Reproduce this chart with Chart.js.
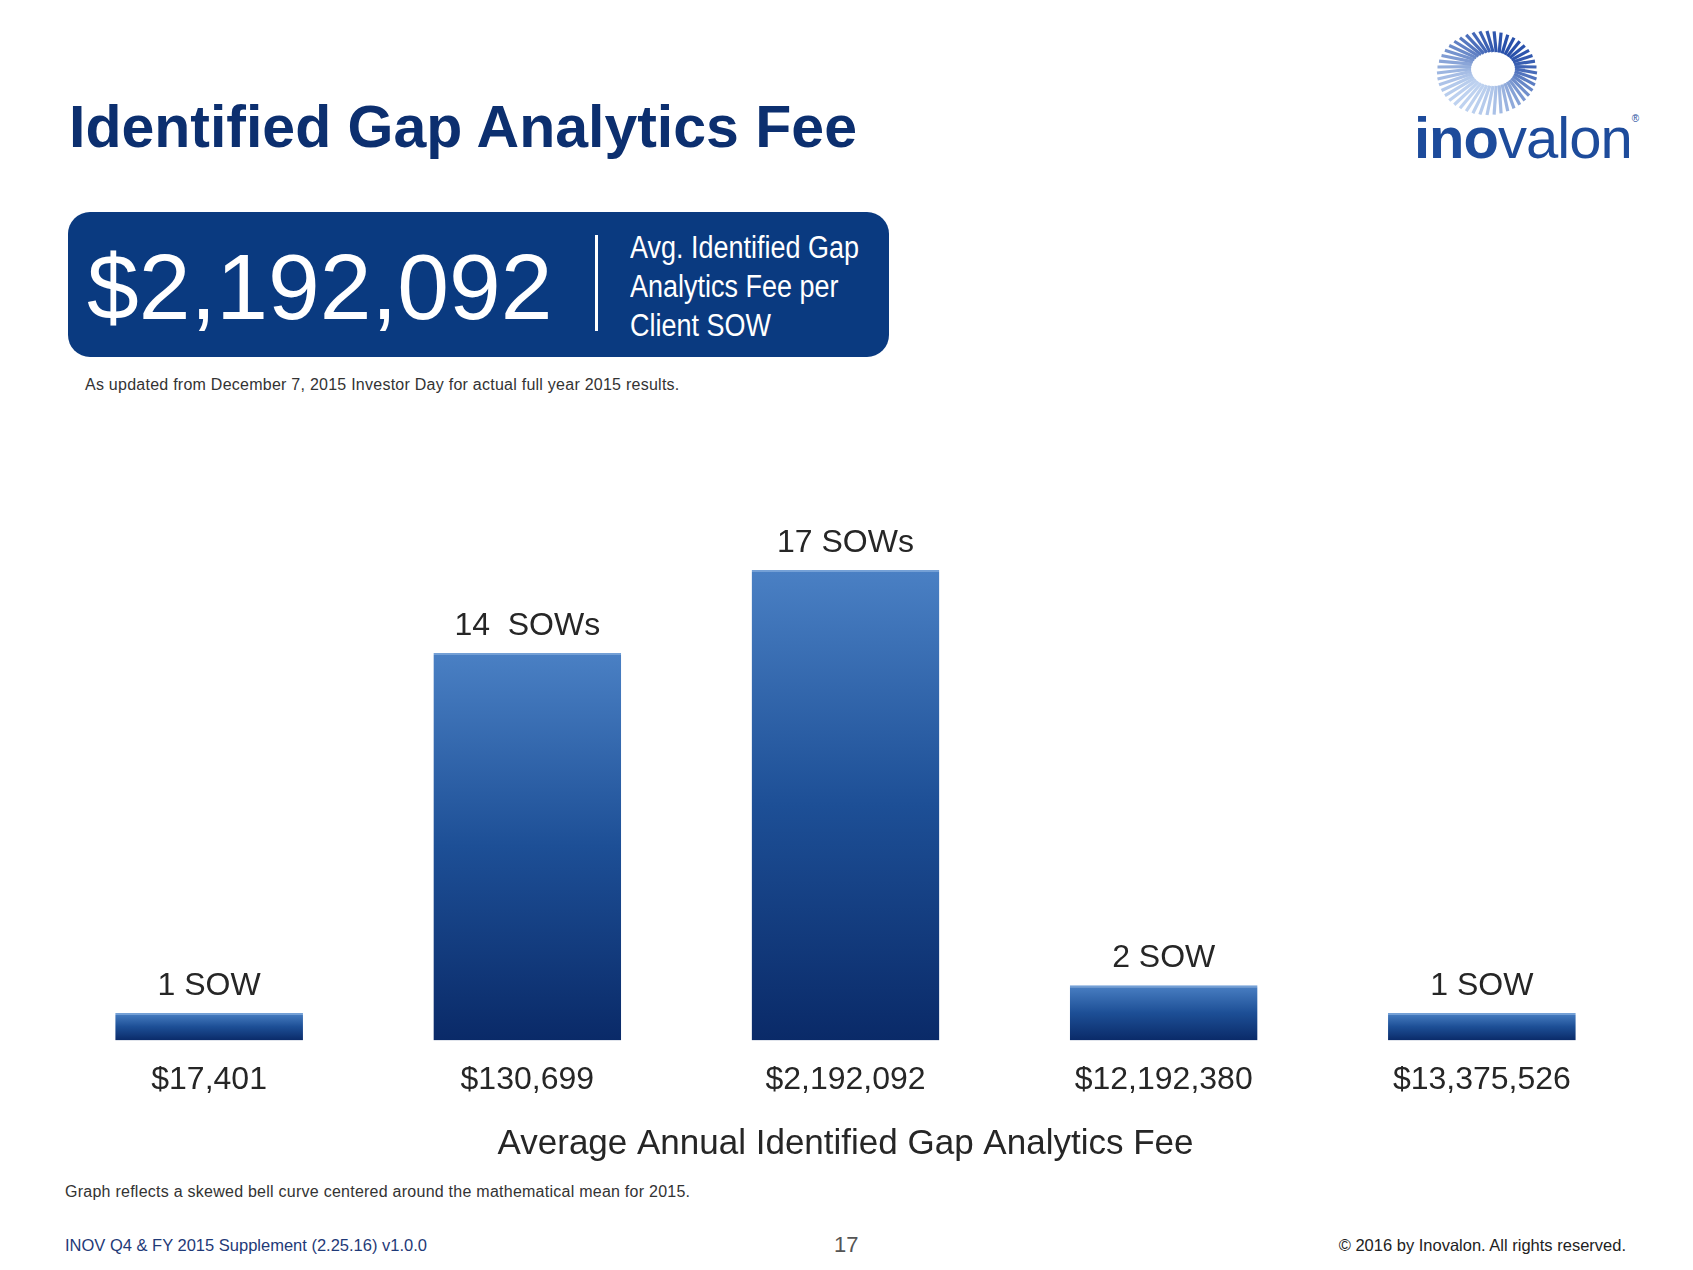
<!DOCTYPE html>
<html>
<head>
<meta charset="utf-8">
<script src="https://cdn.jsdelivr.net/npm/chart.js@4.4.1/dist/chart.umd.min.js"></script>
<style>
  html, body { margin: 0; padding: 0; background: #fff; }
  body { width: 1693px; height: 1270px; position: relative; overflow: hidden; font-family: "Liberation Sans", Arial, sans-serif; }
  .abs { position: absolute; line-height: 1; white-space: nowrap; }
  #title { left: 69px; top: 98px; font-size: 59px; font-weight: bold; color: #0c2f6f; }
  #box { position: absolute; left: 68px; top: 212px; width: 821px; height: 145px; border-radius: 22px; background: #0a3a80; }
  #bigNum { left: 87px; top: 241px; font-size: 93px; color: #fff; }
  #sep { position: absolute; left: 595px; top: 235px; width: 3px; height: 96px; background: #fff; }
  #boxText { left: 630px; top: 228px; font-size: 31px; line-height: 39px; color: #fff; transform: scaleX(0.87); transform-origin: left top; white-space: normal; width: 270px; }
  .note { font-size: 16px; letter-spacing: 0.25px; color: #333; }
  #chartWrap { position: absolute; left: 0; top: 450px; width: 1693px; height: 730px; }
  #footLeft { left: 65px; top: 1237px; font-size: 16.5px; color: #1f3a78; }
  #pageNum { left: 834px; top: 1234px; font-size: 22px; color: #555; }
  #copy { right: 67px; top: 1237px; font-size: 16.5px; color: #222; }
  #logoText { left: 1414px; top: 109px; font-size: 58px; color: #1d4b9b; letter-spacing: -1px; }
  #logoText b { font-weight: bold; }
  #logoText sup { font-size: 10px; vertical-align: 36px; }
</style>
</head>
<body>
<div id="title" class="abs">Identified Gap Analytics Fee</div>

<div id="box"></div>
<div id="bigNum" class="abs">$2,192,092</div>
<div id="sep"></div>
<div id="boxText" class="abs">Avg. Identified Gap<br>Analytics Fee per<br>Client SOW</div>

<div class="abs note" style="left:85px; top:377px;">As updated from December 7, 2015 Investor Day for actual full year 2015 results.</div>

<svg id="logoIcon" style="position:absolute; left:1430px; top:25px;" width="115" height="96"></svg>
<div id="logoText" class="abs"><b>ino</b>valon<sup>&reg;</sup></div>

<div id="chartWrap"><canvas id="gapChart" width="1693" height="730"></canvas></div>

<div class="abs note" style="left:65px; top:1184px;">Graph reflects a skewed bell curve centered around the mathematical mean for 2015.</div>

<div id="footLeft" class="abs">INOV Q4 &amp; FY 2015 Supplement (2.25.16) v1.0.0</div>
<div id="pageNum" class="abs">17</div>
<div id="copy" class="abs">&copy; 2016 by Inovalon. All rights reserved.</div>

<script>
// dados do gráfico
const feeLabels = ['$17,401', '$130,699', '$2,192,092', '$12,192,380', '$13,375,526'];
const sowCounts = [1, 14, 17, 2, 1];
const sowLabels = ['1 SOW', '14  SOWs', '17 SOWs', '2 SOW', '1 SOW'];
const axisTitle = 'Average Annual Identified Gap Analytics Fee';

// logo: anel de traços radiais
const svg = document.getElementById('logoIcon');
const cx = 57, cy = 48;
for (let i = 0; i < 44; i++) {
    const a = (i / 44) * Math.PI * 2;
    const x1 = cx + 6 + Math.cos(a) * 22, y1 = cy - 4 + Math.sin(a) * 17;
    const x2 = cx + Math.cos(a) * 50, y2 = cy + Math.sin(a) * 42;
    const t = (Math.sin(a - 0.6) + 1) / 2;
    const r = Math.round(40 + t * 150), g = Math.round(80 + t * 130), b = Math.round(170 + t * 70);
    const line = document.createElementNS('http://www.w3.org/2000/svg', 'line');
    line.setAttribute('x1', x1); line.setAttribute('y1', y1);
    line.setAttribute('x2', x2); line.setAttribute('y2', y2);
    line.setAttribute('stroke', `rgb(${r},${g},${b})`);
    line.setAttribute('stroke-width', 3.2);
    svg.appendChild(line);
}

// rótulos acima das barras
const barLabelsPlugin = {
    id: 'barLabels',
    afterDatasetsDraw(chart) {
        const ctx = chart.ctx;
        const meta = chart.getDatasetMeta(0);
        ctx.save();
        ctx.font = '32px "Liberation Sans", Arial, sans-serif';
        ctx.fillStyle = '#262626';
        ctx.textAlign = 'center';
        ctx.textBaseline = 'middle';
        meta.data.forEach((bar, i) => {
            ctx.fillText(sowLabels[i], bar.x, bar.y - 27);
        });
        ctx.restore();
    }
};

function barGradient(context) {
    const chart = context.chart;
    if (!chart.chartArea || !chart.scales.y) return '#2a5ea8';
    const y = chart.scales.y;
    const top = y.getPixelForValue(context.raw);
    const bottom = y.getPixelForValue(0);
    const grad = chart.ctx.createLinearGradient(0, top, 0, bottom);
    grad.addColorStop(0, '#4a80c4');
    grad.addColorStop(0.5, '#1d4f96');
    grad.addColorStop(1, '#0a2a68');
    return grad;
}

const ctx = document.getElementById('gapChart').getContext('2d');
const gapChart = new Chart(ctx, {
    type: 'bar',
    data: {
        labels: feeLabels,
        datasets: [{
            data: sowCounts,
            backgroundColor: barGradient,
            borderColor: '#74a0d6',
            borderWidth: { top: 2, left: 0, right: 0, bottom: 0 },
            borderSkipped: false,
            categoryPercentage: 1,
            barPercentage: 0.59
        }]
    },
    options: {
        responsive: false,
        animation: false,
        layout: { padding: { left: 50, right: 52, top: 37, bottom: 15 } },
        plugins: {
            legend: { display: false },
            tooltip: { enabled: false }
        },
        scales: {
            y: { display: false, min: 0, max: 20 },
            x: {
                grid: { display: false, drawTicks: false },
                border: { display: false },
                ticks: {
                    color: '#262626',
                    padding: 20,
                    maxRotation: 0,
                    autoSkip: false,
                    font: { family: '"Liberation Sans", Arial, sans-serif', size: 32 }
                },
                title: {
                    display: true,
                    text: axisTitle,
                    color: '#262626',
                    padding: { top: 4, bottom: 0 },
                    font: { family: '"Liberation Sans", Arial, sans-serif', size: 35 }
                }
            }
        }
    },
    plugins: [barLabelsPlugin]
});
</script>
</body>
</html>
